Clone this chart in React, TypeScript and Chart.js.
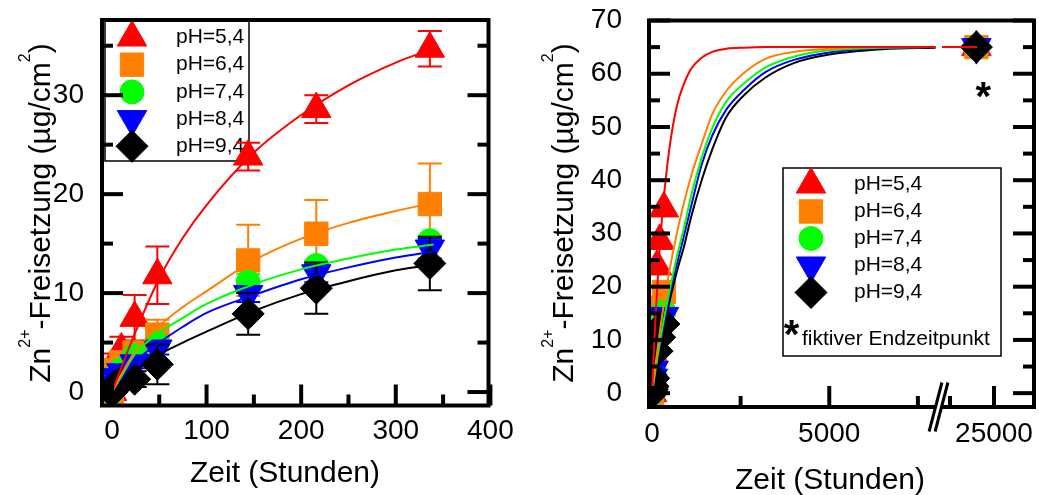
import { useEffect, useRef } from 'react';
import { Chart, registerables, LinearScale } from 'chart.js';
import { drawPoint } from 'chart.js/helpers';

Chart.register(...registerables);

const FONT = "'Liberation Sans', Arial, Helvetica, sans-serif";
Chart.defaults.font.family = FONT;

// ---------------- data ----------------
const hours = [0, 1, 4, 10, 24, 48, 144, 216, 336];
const release54 = [0, 1.8, 3.0, 4.3, 7.5, 11.8, 23.8, 28.6, 34.7];
const error54 = [0, 0.6, 0.9, 1.3, 2.3, 2.9, 1.4, 1.4, 1.8];
const release64 = [0, 1.0, 2.2, 3.0, 4.0, 5.8, 13.3, 16.0, 19.0];
const error64 = [0, 0.3, 0.5, 0.7, 1.0, 1.5, 3.6, 3.4, 4.1];
const release74 = [0, 0.8, 1.6, 2.3, 3.7, 4.9, 11.1, 12.8, 15.3];
const error74 = [0, 0.2, 0.3, 0.4, 0.4, 0.6, 0.8, 0.5, 0.5];
const release84 = [0, 0.7, 1.5, 2.0, 2.9, 4.4, 9.9, 12.0, 14.5];
const error84 = [0, 0.2, 0.3, 0.4, 0.5, 0.6, 0.8, 0.9, 1.0];
const release94 = [0, 0.3, 0.7, 1.0, 1.3, 2.8, 7.9, 10.5, 13.0];
const error94 = [0, 0.2, 0.3, 0.5, 0.8, 2.0, 2.1, 2.6, 2.7];

const endHour = 24000; // fiktiver Endzeitpunkt
const endValue = 65;

// fitted curves, left panel (0-340 h)
const fitHoursShort = [0, 10, 25, 50, 75, 100, 150, 200, 250, 300, 340];
const fitShort54 = [0, 2.5, 6.1, 11.5, 15.6, 18.9, 24.2, 28.0, 31.0, 33.3, 34.7];
const fitShort64 = [0, 1.8, 4.2, 6.7, 8.6, 10.2, 13.3, 15.5, 17.1, 18.3, 19.1];
const fitShort74 = [0, 1.6, 3.9, 6.0, 7.5, 8.9, 10.9, 12.4, 13.5, 14.4, 14.9];
const fitShort84 = [0, 1.4, 3.1, 5.0, 6.6, 8.0, 9.8, 11.4, 12.6, 13.6, 14.2];
const fitShort94 = [0, 0.9, 2.2, 3.8, 5.0, 6.1, 8.2, 9.9, 11.2, 12.3, 12.9];

// fitted curves, right panel (to the fictive end point)
const fitHoursLong = [0, 50, 100, 200, 336, 500, 700, 900, 1100, 1400, 1700, 2100, 2600, 3200, 4000, 5000, 6500, 8000];
const fitLong54 = [0, 7.6, 14.4, 25.6, 36.9, 46.4, 53.9, 58.1, 60.9, 63.0, 64.1, 64.7, 64.9, 65, 65, 65, 65, 65];
const fitLong64 = [0, 2.8, 5.5, 10.5, 16.8, 23.3, 30.0, 35.7, 40.7, 46.8, 52.4, 56.8, 60.2, 62.8, 64.1, 64.7, 65, 65];
const fitLong74 = [0, 2.3, 4.5, 8.7, 13.9, 19.4, 25.6, 31.0, 37.0, 44.2, 49.8, 54.8, 58.2, 61.2, 63.2, 64.4, 64.9, 65];
const fitLong84 = [0, 2.1, 4.2, 8.1, 13.0, 18.4, 24.2, 29.5, 35.0, 42.9, 48.4, 53.3, 57.0, 60.3, 62.6, 64.0, 64.8, 65];
const fitLong94 = [0, 2.0, 3.9, 7.6, 12.3, 17.4, 22.8, 27.5, 33.0, 40.0, 45.8, 51.9, 56.0, 59.3, 62.0, 63.6, 64.6, 64.9];
const fitHoursTail = [22050, 24000];

const seriesLabels = ['pH=5,4', 'pH=6,4', 'pH=7,4', 'pH=8,4', 'pH=9,4'];
const footnoteMark = '*';
const footnoteText = 'fiktiver Endzeitpunkt';
const xTitleText = 'Zeit (Stunden)';

// tick values
const leftXMajor = [0, 100, 200, 300, 400];
const leftXMinor = [50, 150, 250, 350];
const leftYMajor = [0, 10, 20, 30];
const leftYMinor = [5, 15, 25, 35];
const rightXMajor = [0, 5000, 25000];
const rightXMinor = [2500, 7500, 22500];
const rightYMajor = [0, 10, 20, 30, 40, 50, 60, 70];
const rightYMinor = [5, 15, 25, 35, 45, 55, 65];

const releaseSets = [release54, release64, release74, release84, release94];
const errorSets = [error54, error64, error74, error84, error94];
const fitShortSets = [fitShort54, fitShort64, fitShort74, fitShort84, fitShort94];
const fitLongSets = [fitLong54, fitLong64, fitLong74, fitLong84, fitLong94];

// ---------------- styles ----------------
const markerStyles = [
  { color: '#ff0000', pointStyle: 'triangle', rotation: 0, radius: 17 },
  { color: '#ff8000', pointStyle: 'rect', rotation: 0, radius: 16.5 },
  { color: '#00ff00', pointStyle: 'circle', rotation: 0, radius: 12 },
  { color: '#0000ff', pointStyle: 'triangle', rotation: 180, radius: 17 },
  { color: '#000000', pointStyle: 'rectRot', rotation: 0, radius: 16 },
];

const ZERO_PAD = { left: 0, top: 0, right: 0, bottom: 0 };

class TightLinearScale extends LinearScale {
  static id = 'tightLinear';
  static defaults = LinearScale.defaults;
  getPadding() { return ZERO_PAD; }
  _handleMargins() {}
}

class BrokenLinearScale extends LinearScale {
  static id = 'brokenLinear';
  static defaults = LinearScale.defaults;
  getPadding() { return ZERO_PAD; }
  _handleMargins() {}
  getPixelForValue(value: any) {
    if (value === null || value === undefined || Number.isNaN(value)) return NaN;
    const o: any = this.options;
    const f = o.breakFraction;
    let dec;
    if (value <= o.breakStart) dec = ((value - this.min) / (o.breakStart - this.min)) * f;
    else if (value >= o.breakEnd) dec = f + ((value - o.breakEnd) / (this.max - o.breakEnd)) * (1 - f);
    else dec = f;
    return this.getPixelForDecimal(dec);
  }
  getValueForPixel(pixel: number) {
    const o: any = this.options;
    const f = o.breakFraction;
    const dec = this.getDecimalForPixel(pixel);
    if (dec <= f) return this.min + (dec / f) * (o.breakStart - this.min);
    return o.breakEnd + ((dec - f) / (1 - f)) * (this.max - o.breakEnd);
  }
}
Chart.register(TightLinearScale as any, BrokenLinearScale as any);

function buildMarkerDatasets(withEnd: boolean) {
  return releaseSets.map((vals, i) => {
    const st = markerStyles[i];
    const pts: any[] = hours.map((x, j) => ({ x, y: vals[j] }));
    if (withEnd) pts.push({ x: endHour, y: endValue });
    return {
      label: seriesLabels[i],
      data: pts,
      showLine: false,
      pointStyle: st.pointStyle,
      pointRotation: st.rotation,
      pointRadius: st.radius,
      pointHoverRadius: st.radius,
      pointBackgroundColor: st.color,
      pointBorderColor: st.color,
      pointBorderWidth: 1,
      borderColor: st.color,
      backgroundColor: st.color,
      order: 10 - i,
      clip: 0,
    };
  });
}

function buildFitDatasets(xs: number[], sets: number[][], tail: number[] | null, gapX: number) {
  return sets.map((vals, i) => {
    const pts: any[] = xs.map((x, j) => ({ x, y: vals[j] }));
    if (tail) {
      pts.push({ x: gapX, y: null });
      tail.forEach((x) => pts.push({ x, y: endValue }));
    }
    return {
      label: '',
      data: pts,
      showLine: true,
      borderColor: markerStyles[i].color,
      backgroundColor: markerStyles[i].color,
      borderWidth: 2,
      pointRadius: 0,
      pointHoverRadius: 0,
      fill: false,
      spanGaps: false,
      cubicInterpolationMode: 'monotone',
      order: i + 1,
      clip: 0,
    };
  });
}

function drawLegend(chart: any, spec: any) {
  const { ctx, chartArea: a } = chart;
  const L = spec.legend;
  ctx.save();
  ctx.beginPath();
  ctx.rect(a.left, a.top, a.right - a.left, a.bottom - a.top);
  ctx.clip();
  ctx.fillStyle = '#ffffff';
  ctx.fillRect(L.left, L.top, L.right - L.left, L.bottom - L.top);
  ctx.strokeStyle = '#000000';
  ctx.lineWidth = 1.5;
  ctx.strokeRect(L.left, L.top, L.right - L.left, L.bottom - L.top);
  seriesLabels.forEach((lab, i) => {
    const st = markerStyles[i];
    const y = L.firstRow + i * L.rowStep;
    ctx.fillStyle = st.color;
    ctx.strokeStyle = st.color;
    ctx.lineWidth = 1;
    drawPoint(ctx, { pointStyle: st.pointStyle, rotation: st.rotation, radius: st.radius, borderWidth: 1 } as any, L.markerX, y);
    ctx.fillStyle = '#000000';
    ctx.font = `21px ${FONT}`;
    ctx.textAlign = 'left';
    ctx.textBaseline = 'middle';
    ctx.fillText(lab, L.textX, y);
  });
  if (L.footnote) {
    ctx.fillStyle = '#000000';
    ctx.font = `bold 40px ${FONT}`;
    ctx.textAlign = 'center';
    ctx.textBaseline = 'alphabetic';
    ctx.fillText(footnoteMark, L.starX, L.starBase);
    ctx.font = `21px ${FONT}`;
    ctx.textAlign = 'left';
    ctx.fillText(footnoteText, L.noteX, L.noteBase);
  }
  ctx.restore();
}

function drawErrorBars(chart: any, index: number, errs: number[]) {
  const { ctx, chartArea: a, scales } = chart;
  const ds = chart.data.datasets[index];
  const xS = scales.x, yS = scales.y;
  ctx.save();
  ctx.beginPath();
  ctx.rect(a.left, a.top, a.right - a.left, a.bottom - a.top);
  ctx.clip();
  ctx.strokeStyle = ds.borderColor;
  ctx.lineWidth = 2;
  errs.forEach((e, j) => {
    if (!e) return;
    const pt = ds.data[j];
    const px = xS.getPixelForValue(pt.x);
    const top = yS.getPixelForValue(pt.y + e);
    const bot = yS.getPixelForValue(pt.y - e);
    ctx.beginPath();
    ctx.moveTo(px, top); ctx.lineTo(px, bot);
    ctx.moveTo(px - 12, top); ctx.lineTo(px + 12, top);
    ctx.moveTo(px - 12, bot); ctx.lineTo(px + 12, bot);
    ctx.stroke();
  });
  ctx.restore();
}

function drawFrame(chart: any, spec: any) {
  const { ctx, chartArea: a, scales } = chart;
  const xS = scales.x, yS = scales.y;
  ctx.save();
  ctx.strokeStyle = '#000000';
  ctx.lineCap = 'butt';
  ctx.lineWidth = 4;
  ctx.strokeRect(a.left, a.top, a.right - a.left, a.bottom - a.top);
  const seg = (x1: number, y1: number, x2: number, y2: number) => {
    ctx.beginPath(); ctx.moveTo(x1, y1); ctx.lineTo(x2, y2); ctx.stroke();
  };
  const yTick = (v: number, len: number) => {
    const py = yS.getPixelForValue(v);
    seg(a.left, py, a.left + len, py);
    seg(a.right - len, py, a.right, py);
  };
  const xTick = (v: number, len: number) => {
    const px = xS.getPixelForValue(v);
    seg(px, a.bottom, px, a.bottom - len);
  };
  spec.yMajor.forEach((v: number) => yTick(v, 21));
  spec.yMinor.forEach((v: number) => yTick(v, 11));
  spec.xMajor.forEach((v: number) => xTick(v, 21));
  spec.xMinor.forEach((v: number) => xTick(v, 11));

  if (spec.axisBreak) {
    const bx = xS.getPixelForDecimal(xS.options.breakFraction);
    const by = a.bottom;
    ctx.fillStyle = '#ffffff';
    ctx.fillRect(bx - 3.5, by - 3, 7, 6);
    ctx.lineWidth = 3;
    [-3, 3].forEach((off) => seg(bx + off - 6.4, by + 24.5, bx + off + 6.4, by - 24.5));
  }
  ctx.restore();
}

function drawTitles(chart: any, spec: any) {
  const { ctx, scales } = chart;
  ctx.save();
  ctx.fillStyle = '#000000';
  ctx.textBaseline = 'alphabetic';
  ctx.font = `30px ${FONT}`;
  ctx.textAlign = 'center';
  ctx.fillText(xTitleText, spec.xTitle.x, spec.xTitle.y);
  const parts: [string, boolean][] = [['Zn', false], ['2+', true], ['-Freisetzung (µg/cm', false], ['2', true], [')', false]];
  const big = `30px ${FONT}`;
  const small = `16px ${FONT}`;
  let total = 0;
  parts.forEach(([t, sup]) => { ctx.font = sup ? small : big; total += ctx.measureText(t).width; });
  ctx.translate(spec.yTitle.x, spec.yTitle.y);
  ctx.rotate(-Math.PI / 2);
  ctx.textAlign = 'left';
  let cur = -total / 2;
  parts.forEach(([t, sup]) => {
    ctx.font = sup ? small : big;
    ctx.fillText(t, cur, sup ? -20 : 0);
    cur += ctx.measureText(t).width;
  });
  ctx.setTransform(1, 0, 0, 1, 0, 0);
  if (spec.star) {
    ctx.font = `bold 40px ${FONT}`;
    ctx.textAlign = 'center';
    const sx = scales.x.getPixelForValue(endHour) + 7;
    const sy = scales.y.getPixelForValue(endValue) + 63;
    ctx.fillText(footnoteMark, sx, sy);
  }
  ctx.restore();
}

function panelPlugin(spec: any) {
  return {
    id: 'panelDecor',
    beforeDatasetsDraw(chart: any) { drawLegend(chart, spec); },
    beforeDatasetDraw(chart: any, args: any) {
      const errs = spec.errors ? spec.errors[args.index] : null;
      if (errs) drawErrorBars(chart, args.index, errs);
    },
    afterDraw(chart: any) { drawFrame(chart, spec); drawTitles(chart, spec); },
  };
}

function axis(extra: any, major: number[], padding: number, size: number, isX: boolean) {
  return {
    ...extra,
    grid: { display: false, drawTicks: false },
    border: { display: false },
    ticks: {
      color: '#000000',
      font: { family: FONT, size: 28 },
      padding,
      autoSkip: false,
      maxRotation: 0,
      minRotation: 0,
      callback: (v: number) => (major.includes(v) ? String(v) : ''),
    },
    afterBuildTicks: (s: any) => { s.ticks = major.map((v) => ({ value: v })); },
    afterFit: (s: any) => {
      if (isX) s.height = size; else s.width = size;
      s.paddingTop = 0; s.paddingBottom = 0; s.paddingLeft = 0; s.paddingRight = 0;
    },
  };
}

const leftSpec = {
  xMajor: leftXMajor, xMinor: leftXMinor, yMajor: leftYMajor, yMinor: leftYMinor,
  legend: { left: 105, top: 20, right: 249, bottom: 161, markerX: 132, textX: 176, firstRow: 37.5, rowStep: 27.2, footnote: false },
  yTitle: { x: 50, y: 213 },
  xTitle: { x: 285, y: 482 },
  axisBreak: false,
  star: false,
  errors: errorSets,
};

const rightSpec = {
  xMajor: rightXMajor, xMinor: rightXMinor, yMajor: rightYMajor, yMinor: rightYMinor,
  legend: {
    left: 263, top: 168, right: 481, bottom: 356, markerX: 291, textX: 334, firstRow: 184.5, rowStep: 27, footnote: true,
    starX: 271.5, starBase: 348, noteX: 282, noteBase: 345,
  },
  yTitle: { x: 53, y: 213 },
  xTitle: { x: 310, y: 489 },
  axisBreak: true,
  star: true,
  errors: null,
};

function commonOptions(padding: any, scales: any) {
  return {
    responsive: false,
    maintainAspectRatio: false,
    animation: false,
    devicePixelRatio: 1,
    events: [],
    layout: { padding, autoPadding: false },
    plugins: { legend: { display: false }, tooltip: { enabled: false } },
    scales,
  };
}

function leftConfig(): any {
  return {
    type: 'scatter',
    data: { datasets: [...buildMarkerDatasets(false), ...buildFitDatasets(fitHoursShort, fitShortSets, null, 0)] },
    options: commonOptions(
      { top: 20, right: 31.5, bottom: 0, left: 0 },
      {
        x: axis({ type: 'tightLinear', min: -10.5, max: 398 }, leftXMajor, 9, 89.5, true),
        y: axis({ type: 'tightLinear', min: -1.36, max: 37.6 }, leftYMajor, 18, 102, false),
      }
    ),
    plugins: [panelPlugin(leftSpec)],
  };
}

function rightConfig(): any {
  return {
    type: 'scatter',
    data: { datasets: [...buildMarkerDatasets(true), ...buildFitDatasets(fitHoursLong, fitLongSets, fitHoursTail, 15000)] },
    options: commonOptions(
      { top: 20.5, right: 5, bottom: 0, left: 0 },
      {
        x: axis({ type: 'brokenLinear', min: -85, max: 27273, breakStart: 8082, breakEnd: 21847, breakFraction: 0.752 }, rightXMajor, 10, 88, true),
        y: axis({ type: 'tightLinear', min: -2.6, max: 70 }, rightYMajor, 27, 129, false),
      }
    ),
    plugins: [panelPlugin(rightSpec)],
  };
}

function Panel({ width, height, makeConfig }: { width: number; height: number; makeConfig: () => any }) {
  const ref = useRef<HTMLCanvasElement | null>(null);
  useEffect(() => {
    if (!ref.current) return;
    const chart = new Chart(ref.current, makeConfig());
    return () => chart.destroy();
  }, [makeConfig]);
  return <canvas ref={ref} width={width} height={height} style={{ display: 'block', width, height, flex: 'none' }} />;
}

export default function App() {
  return (
    <div style={{ position: 'absolute', left: 0, top: 0, width: 1039, height: 495, display: 'flex', background: '#ffffff' }}>
      <Panel width={520} height={495} makeConfig={leftConfig} />
      <Panel width={519} height={495} makeConfig={rightConfig} />
    </div>
  );
}
